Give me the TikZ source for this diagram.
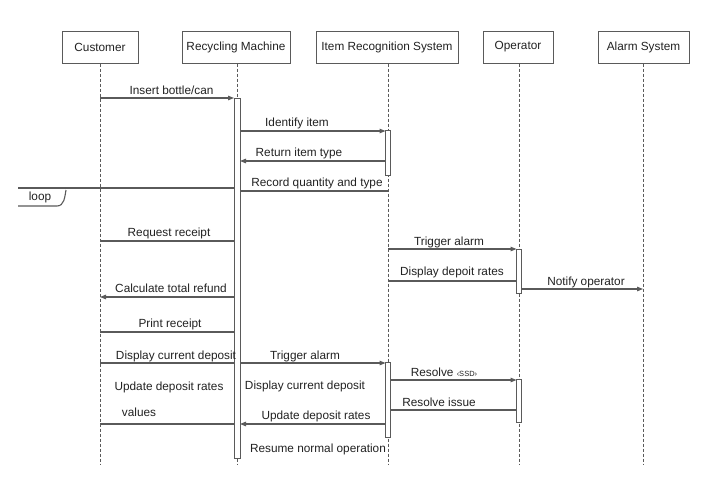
\documentclass[tikz,border=0pt]{standalone}
\usepackage{fontspec}
\setmainfont{Liberation Sans}
\usetikzlibrary{arrows.meta}
\definecolor{ln}{HTML}{5A5A5A}
\definecolor{tx}{HTML}{222222}
\begin{document}
\begin{tikzpicture}[x=1pt,y=-1pt,
  actor/.style={draw=ln,line width=1pt,fill=white,minimum width=#1,minimum height=32,inner sep=0pt,font=\fontsize{11.8}{13}\selectfont,text=tx},
  life/.style={draw=ln,line width=0.8pt,dash pattern=on 3pt off 2pt},
  act/.style={draw=ln,line width=0.8pt,fill=white},
  msg/.style={draw=ln,line width=1.1pt},
  amsg/.style={msg,-{Triangle[length=6pt,width=4.5pt]}},
  lbl/.style={font=\fontsize{11.8}{13}\selectfont,text=tx,inner sep=0pt}]
\useasboundingbox (0,0) rectangle (720,501);
\fill[white] (0,0) rectangle (720,501);
% actors
\node[actor=76] (cu) at (100,47) {Customer};
\node[actor=108] (rm) at (236,47) {Recycling Machine};
\node[actor=142] (irs) at (387,47) {Item Recognition System};
\node[actor=70] (op) at (518,47) {Operator};
\node[actor=91] (al) at (643.5,47) {Alarm System};
% lifelines
\coordinate (cuE) at (100,465);
\coordinate (rmE) at (237,465);
\coordinate (irsE) at (388,465);
\coordinate (opE) at (519,465);
\coordinate (alE) at (643,465);
\draw[life] (cu.south -| cuE) -- (cuE);
\draw[life] (rm.south -| rmE) -- (rmE);
\draw[life] (irs.south -| irsE) -- (irsE);
\draw[life] (op.south -| opE) -- (opE);
\draw[life] (al.south -| alE) -- (alE);
% activations
\draw[act] (234,98) rectangle (240,458);
\draw[act] (385.5,130) rectangle (390.5,175);
\draw[act] (516.5,249) rectangle (521.5,293);
\draw[act] (385.5,362) rectangle (390.5,437);
\draw[act] (516.5,379) rectangle (521.5,422);
% named points
\coordinate (c98) at (100,98); \coordinate (r98) at (234,98);
\coordinate (r131) at (240,131); \coordinate (i131) at (385.5,131);
\coordinate (i161) at (385.5,161); \coordinate (r161) at (240,161);
\coordinate (r191) at (240,191); \coordinate (i191) at (388,191);
\coordinate (f188) at (18,188); \coordinate (r188) at (234,188);
\coordinate (c241) at (100,241); \coordinate (r241) at (234,241);
\coordinate (r297) at (234,297); \coordinate (c297) at (100,297);
\coordinate (c332) at (100,332); \coordinate (r332) at (234,332);
\coordinate (c363) at (100,363); \coordinate (r363) at (234,363);
\coordinate (r363b) at (240,363); \coordinate (i363) at (385.5,363);
\coordinate (c424) at (100,424); \coordinate (r424) at (234,424);
\coordinate (i424) at (385.5,424); \coordinate (r424b) at (240,424);
\coordinate (i249) at (388,249); \coordinate (o249) at (516.5,249);
\coordinate (i281) at (388,281); \coordinate (o281) at (516.5,281);
\coordinate (o289) at (521.5,289); \coordinate (a289) at (643,289);
\coordinate (i380) at (390.5,380); \coordinate (o380) at (516.5,380);
\coordinate (o410) at (516.5,410); \coordinate (i410) at (390.5,410);
% messages
\draw[amsg] (c98) -- (r98);
\node[lbl] (m1) at (171.5,90) {Insert bottle/can};
\draw[amsg] (r131) -- (i131);
\node[lbl] (m2) at (297,123) {Identify item};
\draw[amsg] (i161) -- (r161);
\node[lbl] (m3) at (299,153) {Return item type};
\draw[msg] (r191) -- (i191);
\node[lbl] (m4) at (317,183) {Record quantity and type};
% loop frame
\draw[msg] (f188) -- (r188);
\draw[msg] (18,206) -- (57,206) to[out=0,in=-100] (66,190);
\node[lbl] (lp) at (40,197) {loop};
\draw[msg] (c241) -- (r241);
\node[lbl] (m5) at (169,233) {Request receipt};
\draw[amsg] (r297) -- (c297);
\node[lbl] (m6) at (171,288) {Calculate total refund};
\draw[msg] (c332) -- (r332);
\node[lbl] (m7) at (170,324) {Print receipt};
\draw[msg] (c363) -- (r363);
\node[lbl] (m8) at (176,356) {Display current deposit};
\draw[amsg] (r363b) -- (i363);
\node[lbl] (m9) at (305,356) {Trigger alarm};
\node[lbl] (m10) at (169,387) {Update deposit rates};
\node[lbl] (m11) at (139,412) {values};
\draw[msg] (c424) -- (r424);
\node[lbl] (m12) at (305,386) {Display current deposit};
\draw[amsg] (i424) -- (r424b);
\node[lbl] (m13) at (316,416) {Update deposit rates};
\node[lbl] (m14) at (318,449) {Resume normal operation};
\draw[amsg] (i249) -- (o249);
\node[lbl] (m15) at (449,242) {Trigger alarm};
\draw[msg] (i281) -- (o281);
\node[lbl] (m16) at (452,272) {Display depoit rates};
\draw[amsg] (o289) -- (a289);
\node[lbl] (m17) at (586,282) {Notify operator};
\draw[amsg] (i380) -- (o380);
\node[lbl] (m18) at (444,372) {Resolve {\fontsize{7.5}{9}\selectfont ‹SSD›}};
\draw[msg] (o410) -- (i410);
\node[lbl] (m19) at (439,402) {Resolve issue};
\end{tikzpicture}
\end{document}
